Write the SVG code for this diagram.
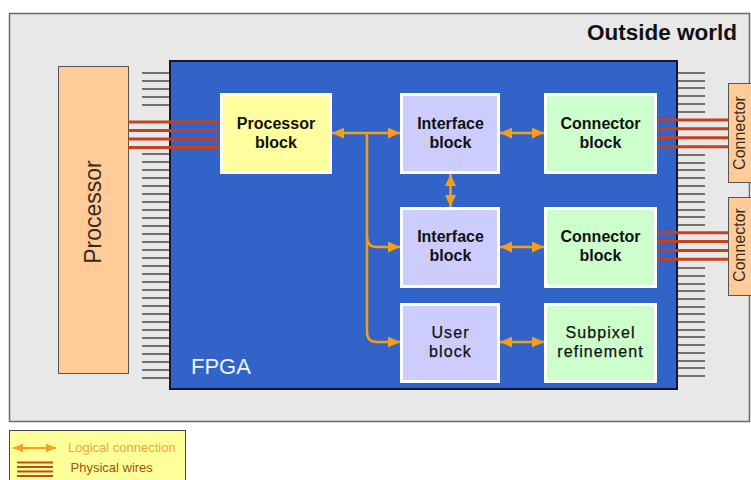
<svg xmlns="http://www.w3.org/2000/svg" width="751" height="480" viewBox="0 0 751 480">
<defs>
<marker id="ah" viewBox="0 0 12 11" refX="12" refY="5.5" markerWidth="12" markerHeight="11" markerUnits="userSpaceOnUse" orient="auto-start-reverse">
<path d="M0,0 L12,5.5 L0,11 z" fill="#f59e1b"/>
</marker>
<marker id="ahs" viewBox="0 0 10 9" refX="10" refY="4.5" markerWidth="10" markerHeight="9" markerUnits="userSpaceOnUse" orient="auto-start-reverse">
<path d="M0,0 L10,4.5 L0,9 z" fill="#f5a020"/>
</marker>
<style>
.blk{stroke:#ffffff;stroke-width:3}
.t{font-family:"Liberation Sans",Arial,sans-serif;font-size:16px;font-weight:bold;fill:#111;text-anchor:middle}
.tn{font-family:"Liberation Sans",Arial,sans-serif;font-size:16px;fill:#111;text-anchor:middle;letter-spacing:1.1px;stroke:#111;stroke-width:0.25}
.pin{stroke:#4a4a4a;stroke-width:1.5;fill:none}
.wire{stroke:#c8401a;stroke-width:3;fill:none}
.lc{stroke:#f59e1b;stroke-width:2.5;fill:none}
.pc{fill:#ffcc99;stroke:#555;stroke-width:1}
</style>
</defs>
<rect x="9.5" y="13.5" width="740" height="408" fill="#e8e8e8" stroke="#6a6a6a" stroke-width="1.5"/>
<text x="737" y="40" font-family="'Liberation Sans',Arial,sans-serif" font-size="22.5" font-weight="bold" fill="#111" text-anchor="end">Outside world</text>

<g id="pins">
<path class="pin" d="M142,73h28M142,81h28M142,89h28M142,97h28M142,105h28M142,154h28M142,162h28M142,170h28M142,178h28M142,186h28M142,194h28M142,202h28M142,210h28M142,218h28M142,226h28M142,234h28M142,242h28M142,250h28M142,258h28M142,266h28M142,274h28M142,282h28M142,290h28M142,298h28M142,306h28M142,314h28M142,322h28M142,330h28M142,338h28M142,346h28M142,354h28M142,362h28M142,370h28M142,378h28"/>
<path class="pin" d="M677,73h28M677,81h28M677,88h28M677,96h28M677,104h28M677,112h28M677,155h28M677,163h28M677,170h28M677,178h28M677,186h28M677,194h28M677,202h28M677,210h28M677,217h28M677,225h28M677,268h28M677,276h28M677,284h28M677,291h28M677,299h28M677,307h28M677,314h28M677,322h28M677,330h28M677,337h28M677,345h28M677,353h28M677,361h28M677,368h28M677,376h28"/>
</g>

<g id="processor">
<rect class="pc" x="58.5" y="66.5" width="70" height="307"/>
<text transform="translate(101,212) rotate(-90)" font-family="'Liberation Sans',Arial,sans-serif" font-size="23" fill="#3a2a1a" text-anchor="middle">Processor</text>
</g>

<g id="connector1">
<rect class="pc" x="728.5" y="83.5" width="30" height="99"/>
<text transform="translate(745,133) rotate(-90)" font-family="'Liberation Sans',Arial,sans-serif" font-size="16" fill="#3a2a1a" text-anchor="middle">Connector</text>
</g>
<g id="connector2">
<rect class="pc" x="728.5" y="197.5" width="30" height="98"/>
<text transform="translate(745,245) rotate(-90)" font-family="'Liberation Sans',Arial,sans-serif" font-size="16" fill="#3a2a1a" text-anchor="middle">Connector</text>
</g>

<g id="fpga">
<rect x="170" y="61" width="507" height="328" fill="#3163c8" stroke="#15182a" stroke-width="2"/>
<text x="191" y="374" font-family="'Liberation Sans',Arial,sans-serif" font-size="22" fill="#eef3ff">FPGA</text>
</g>

<g id="wires">
<path class="wire" d="M128,122H221M128,130.5H221M128,139H221M128,147.5H221"/>
<path class="wire" d="M655,120H728M655,128.8H728M655,137.7H728M655,146.7H728"/>
<path class="wire" d="M655,232.7H728M655,241.6H728M655,250.4H728M655,259.3H728"/>
</g>

<g id="processor-block">
<rect class="blk" x="221.5" y="94.5" width="109" height="78" fill="#ffffa0"/>
<text class="t" x="276" y="128.5">Processor</text>
<text class="t" x="276" y="147.5">block</text>
</g>
<g id="interface-block-1">
<rect class="blk" x="401.5" y="94.5" width="97" height="78" fill="#ccccff"/>
<text class="t" x="450.5" y="128.5">Interface</text>
<text class="t" x="450.5" y="147.5">block</text>
</g>
<g id="interface-block-2">
<rect class="blk" x="401.5" y="208.5" width="97" height="78" fill="#ccccff"/>
<text class="t" x="450.5" y="242">Interface</text>
<text class="t" x="450.5" y="261">block</text>
</g>
<g id="connector-block-1">
<rect class="blk" x="545.5" y="94.5" width="110" height="78" fill="#ccffcc"/>
<text class="t" x="600.5" y="128.5">Connector</text>
<text class="t" x="600.5" y="147.5">block</text>
</g>
<g id="connector-block-2">
<rect class="blk" x="545.5" y="208.5" width="110" height="78" fill="#ccffcc"/>
<text class="t" x="600.5" y="242">Connector</text>
<text class="t" x="600.5" y="261">block</text>
</g>
<g id="user-block">
<rect class="blk" x="401.5" y="304.5" width="97" height="77" fill="#ccccff"/>
<text class="tn" x="450.5" y="337.7">User</text>
<text class="tn" x="450.5" y="356.7">block</text>
</g>
<g id="subpixel-refinement">
<rect class="blk" x="545.5" y="304.5" width="110" height="77" fill="#ccffcc"/>
<text class="tn" x="600.5" y="338">Subpixel</text>
<text class="tn" x="600.5" y="356.7">refinement</text>
</g>

<g id="connectors">
<path class="lc" d="M332,133H400" marker-start="url(#ah)" marker-end="url(#ah)"/>
<path class="lc" d="M367,133V332Q367,342 377,342H400" marker-end="url(#ah)"/>
<path class="lc" d="M367,237Q367,247 377,247H400" marker-end="url(#ah)"/>
<path class="lc" d="M500,133H544" marker-start="url(#ah)" marker-end="url(#ah)"/>
<path class="lc" d="M500,247H544" marker-start="url(#ah)" marker-end="url(#ah)"/>
<path class="lc" d="M450.5,174V207" marker-start="url(#ah)" marker-end="url(#ah)"/>
<path class="lc" d="M500,342H544" marker-start="url(#ah)" marker-end="url(#ah)"/>
</g>

<g id="legend">
<rect x="9.5" y="430.5" width="176" height="60" fill="#ffff99" stroke="#444" stroke-width="1"/>
<path d="M13,448H56" stroke="#f5a020" stroke-width="2" fill="none" marker-start="url(#ahs)" marker-end="url(#ahs)"/>
<text x="68" y="452" font-family="'Liberation Sans',Arial,sans-serif" font-size="13" fill="#f2a535">Logical connection</text>
<path d="M17,462.5H53M17,467H53M17,471.5H53M17,476H53" stroke="#b8500f" stroke-width="2" fill="none"/>
<text x="70.5" y="472" font-family="'Liberation Sans',Arial,sans-serif" font-size="13" fill="#a8500f">Physical wires</text>
</g>
</svg>
